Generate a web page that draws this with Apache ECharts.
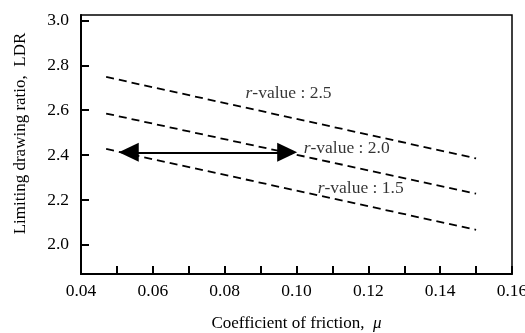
<!DOCTYPE html>
<html>
<head>
<meta charset="utf-8">
<script src="https://cdn.jsdelivr.net/npm/echarts@6/dist/echarts.min.js"></script>
<style>
  html, body { margin: 0; padding: 0; background: #fff; }
  #chart { width: 525px; height: 333px; }
</style>
</head>
<body>
<div id="chart"></div>
<script>
// friction coefficient at line ends
var muRange = [0.047, 0.150];
// LDR at the two ends of each dashed line
var ldrR25 = [2.748, 2.385];
var ldrR20 = [2.585, 2.228];
var ldrR15 = [2.427, 2.067];
var rValues = ['2.5', '2.0', '1.5'];
// label anchors [mu, LDR]
var labelPos = [[0.0858, 2.676], [0.1020, 2.431], [0.1059, 2.253]];
// double arrow
var arrowFrom = [0.0533, 2.412];
var arrowTo = [0.0974, 2.412];
var yTicks = [2.0, 2.2, 2.4, 2.6, 2.8, 3.0];
var xTicks = [0.04, 0.06, 0.08, 0.10, 0.12, 0.14, 0.16];

var font = 'Liberation Serif';
var chart = echarts.init(document.getElementById('chart'));

function dashed(vals) {
  return {
    type: 'line',
    data: [[muRange[0], vals[0]], [muRange[1], vals[1]]],
    symbol: 'none',
    silent: true,
    lineStyle: { color: '#000', width: 1.8, type: [8, 5] }
  };
}

var labelData = labelPos.map(function (p, i) {
  return { value: p, label: { formatter: '{i|r}-value : ' + rValues[i] } };
});

var option = {
  animation: false,
  grid: {
    left: 81, right: 13, top: 15, bottom: 59,
    outerBoundsMode: 'none',
    show: true, borderColor: '#000', borderWidth: 1.5
  },
  xAxis: {
    type: 'value',
    min: 0.04, max: 0.16, interval: 0.01,
    name: 'Coefficient of friction,  {i|μ}',
    nameLocation: 'middle', nameGap: 41,
    nameTextStyle: {
      fontFamily: font, fontSize: 17, color: '#000',
      rich: { i: { fontFamily: font, fontStyle: 'italic', fontSize: 17, color: '#000' } }
    },
    axisLine: { lineStyle: { color: '#000', width: 2 } },
    axisTick: { inside: true, length: 8, lineStyle: { color: '#000', width: 2 } },
    axisLabel: {
      customValues: xTicks,
      formatter: function (v) { return v.toFixed(2); },
      fontFamily: font, fontSize: 17.5, color: '#000', margin: 8
    },
    splitLine: { show: false }
  },
  yAxis: {
    type: 'value',
    min: 1.87, max: 3.024,
    name: 'Limiting drawing ratio,  LDR',
    nameLocation: 'middle', nameGap: 52,
    nameTextStyle: { fontFamily: font, fontSize: 17, color: '#000', padding: [0, 0, 0, 22] },
    axisLine: { show: true, lineStyle: { color: '#000', width: 2 } },
    axisTick: { show: true, inside: true, length: 8, customValues: yTicks, lineStyle: { color: '#000', width: 2 } },
    axisLabel: {
      customValues: yTicks,
      formatter: function (v) { return v.toFixed(1); },
      fontFamily: font, fontSize: 17.5, color: '#000', margin: 12
    },
    splitLine: { show: false }
  },
  series: [
    dashed(ldrR25),
    dashed(ldrR20),
    dashed(ldrR15),
    {
      type: 'scatter',
      data: labelData,
      symbolSize: 0,
      silent: true,
      label: {
        show: true, position: 'right', distance: 0,
        fontFamily: font, fontSize: 17.5, color: '#000',
        rich: { i: { fontFamily: font, fontStyle: 'italic', fontSize: 17.5, color: '#000' } }
      },
      markLine: {
        silent: true,
        symbol: ['triangle', 'triangle'],
        symbolSize: [19, 20],
        label: { show: false },
        lineStyle: { color: '#000', width: 2, type: 'solid' },
        data: [[{ coord: arrowFrom }, { coord: arrowTo }]]
      }
    }
  ]
};
chart.setOption(option);
</script>
</body>
</html>
